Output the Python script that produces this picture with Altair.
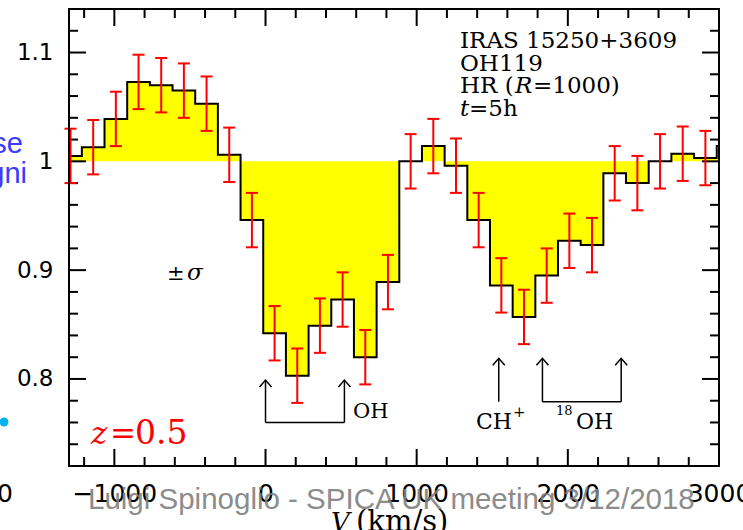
import altair as alt
import pandas as pd

# ---------------- data ----------------
velocity = [-1290, -1140, -990, -840, -690, -540, -390, -240, -90, 60, 210, 360, 510, 660, 810,
            960, 1110, 1260, 1410, 1560, 1710, 1860, 2010, 2160, 2310, 2460, 2610, 2760, 2910, 3060]
flux = [1.005, 1.013, 1.039, 1.073, 1.070, 1.065, 1.053, 1.006, 0.946, 0.842, 0.803, 0.849, 0.873,
        0.820, 0.889, 1.000, 1.014, 0.996, 0.946, 0.886, 0.857, 0.895, 0.927, 0.923, 0.989, 0.980,
        1.000, 1.007, 1.003, 1.014]
SIGMA = 0.025

x_major = [-1000, 0, 1000, 2000, 3000]
x_minor = [-1200, -800, -600, -400, -200, 200, 400, 600, 800, 1200, 1400, 1600, 1800,
           2200, 2400, 2600, 2800]
y_major = [0.8, 0.9, 1.0, 1.1]
y_minor = [0.74, 0.76, 0.78, 0.82, 0.84, 0.86, 0.88, 0.92, 0.94, 0.96, 0.98,
           1.02, 1.04, 1.06, 1.08, 1.12]

# line identifications (velocity, arrow tip, arrow base)
line_v = [0, 522, 1543, 1832, 2353]
line_tip = [0.799, 0.799, 0.819, 0.819, 0.819]
line_base = [0.760, 0.760, 0.779, 0.779, 0.779]
bracket_v1 = [0, 1832]
bracket_v2 = [522, 2353]
bracket_y = [0.760, 0.779]

info_lines = ["IRAS 15250+3609", "OH119"]
watermark = "Luigi Spinoglio - SPICA UK meeting 3/12/2018"

# ---------------- layout ----------------
W, H = 650, 457
XS = alt.Scale(domain=[-1300, 3000], nice=False, zero=False)
YS = alt.Scale(domain=[0.72, 1.14], nice=False, zero=False)
SERIF = "DejaVu Serif"
SANS = "DejaVu Sans"

X_AXIS = alt.Axis(values=x_major, format="d", labelFont=SANS, labelFontSize=25,
                  labelColor="black", ticks=False, tickSize=0, domain=False, grid=False,
                  title=None, labelPadding=15, labelFlush=False, labelOverlap=False)
Y_AXIS = alt.Axis(values=y_major, format="~g", labelFont=SANS, labelFontSize=23,
                  labelColor="black", ticks=False, tickSize=0, domain=False, grid=False,
                  title=None, labelPadding=16, labelOverlap=False)


def X(field):
    return alt.X(field, scale=XS, axis=X_AXIS)


def Y(field):
    return alt.Y(field, scale=YS, axis=Y_AXIS)


half = (velocity[1] - velocity[0]) / 2
step_df = pd.DataFrame({
    "v": [v - half for v in velocity] + [velocity[-1] + half],
    "f": flux + [flux[-1]],
})
err_df = pd.DataFrame({
    "v": velocity,
    "lo": [f - SIGMA for f in flux],
    "hi": [f + SIGMA for f in flux],
})

area = alt.Chart(step_df).mark_area(interpolate="step-after", color="#FFFF00", clip=True).encode(
    x=X("v:Q"), y=Y("f:Q"), y2=alt.datum(1.0))
step = alt.Chart(step_df).mark_line(interpolate="step-after", color="black", strokeWidth=2,
                                     clip=True).encode(x=X("v:Q"), y=Y("f:Q"))

errbase = alt.Chart(err_df).transform_filter(alt.datum.v <= 3000)
err_bar = errbase.mark_rule(color="#FF0000", strokeWidth=2).encode(
    x=X("v:Q"), y=Y("lo:Q"), y2="hi:Q")
cap_lo = errbase.mark_rule(color="#FF0000", strokeWidth=2, xOffset=-6, x2Offset=6).encode(
    x=X("v:Q"), x2="v:Q", y=Y("lo:Q"))
cap_hi = errbase.mark_rule(color="#FF0000", strokeWidth=2, xOffset=-6, x2Offset=6).encode(
    x=X("v:Q"), x2="v:Q", y=Y("hi:Q"))


def xticks(vals, length, top):
    y = alt.value(0) if top else alt.value(H)
    y2 = alt.value(length) if top else alt.value(H - length)
    return alt.Chart(pd.DataFrame({"t": vals})).mark_rule(color="black", strokeWidth=2).encode(
        x=X("t:Q"), y=y, y2=y2)


def yticks(vals, length, right):
    x = alt.value(W) if right else alt.value(0)
    x2 = alt.value(W - length) if right else alt.value(length)
    return alt.Chart(pd.DataFrame({"t": vals})).mark_rule(color="black", strokeWidth=2).encode(
        y=Y("t:Q"), x=x, x2=x2)


ticks = [xticks(x_major, 17, False), xticks(x_major, 17, True),
         xticks(x_minor, 9, False), xticks(x_minor, 9, True),
         yticks(y_major, 17, False), yticks(y_major, 17, True),
         yticks(y_minor, 9, False), yticks(y_minor, 9, True)]

one = pd.DataFrame({"a": [0]})
frame = [
    alt.Chart(one).mark_rule(color="black", strokeWidth=2).encode(
        x=alt.value(0), y=alt.value(-1), y2=alt.value(H + 1)),
    alt.Chart(one).mark_rule(color="black", strokeWidth=2).encode(
        x=alt.value(W), y=alt.value(-1), y2=alt.value(H + 1)),
    alt.Chart(one).mark_rule(color="black", strokeWidth=2).encode(
        y=alt.value(0), x=alt.value(-1), x2=alt.value(W + 1)),
    alt.Chart(one).mark_rule(color="black", strokeWidth=2).encode(
        y=alt.value(H), x=alt.value(-1), x2=alt.value(W + 1)),
]

arrows_df = pd.DataFrame({"v": line_v, "tip": line_tip, "base": line_base})
shafts = alt.Chart(arrows_df).mark_rule(color="black", strokeWidth=1.5).encode(
    x=X("v:Q"), y=Y("tip:Q"), y2="base:Q")
heads = alt.Chart(arrows_df).mark_point(shape="M -1 1.15 L 0 0 L 1 1.15", filled=False, size=144,
                                        color="black", strokeWidth=1.5, opacity=1).encode(
    x=X("v:Q"), y=Y("tip:Q"))
brackets = alt.Chart(pd.DataFrame({"v1": bracket_v1, "v2": bracket_v2, "y": bracket_y})).mark_rule(
    color="black", strokeWidth=1.5).encode(x=X("v1:Q"), x2="v2:Q", y=Y("y:Q"))


def txt(s, x, y, size, font=SERIF, style="normal", color="black", align="left",
        baseline="alphabetic", opacity=1.0):
    return alt.Chart(one).mark_text(text=s, font=font, fontSize=size, fontStyle=style,
                                    color=color, align=align, baseline=baseline,
                                    opacity=opacity).encode(
        x=alt.value(x), y=alt.value(y))


texts = [
    txt(info_lines[0], 391, 39, 23),
    txt(info_lines[1], 391, 61.5, 23),
    txt("HR (", 391, 84, 23),
    txt("R", 446, 84, 23, style="italic"),
    txt("=1000)", 464, 84, 23),
    txt("t", 391, 106.5, 23, style="italic"),
    txt("=5h", 400, 106.5, 23),
    txt("\u00b1", 98, 271, 21),
    txt("\u03c3", 118, 271, 23, style="italic"),
    txt("z", 22, 435, 31, style="italic", color="#FF0000"),
    txt("=", 41, 435, 31, color="#FF0000"),
    txt("0.5", 66, 435, 33, color="#FF0000"),
    txt("OH", 284, 409, 21),
    txt("CH", 407, 420, 22),
    txt("+", 444, 408, 15),
    txt("18", 487, 406, 13),
    txt("OH", 507, 420, 22),
    txt("V", 262, 522, 26, style="italic"),
    txt("(km/s)", 287, 522, 29),
    txt("se", -46, 144, 29, font="Liberation Sans", color="#3B3BFF", align="right"),
    txt("gni", -42, 174, 29, font="Liberation Sans", color="#3B3BFF", align="right"),
    txt("0", -56, 493, 25, font=SANS, align="right"),
    txt(watermark, 19, 499.5, 29.5, font="Liberation Sans", color="#808080", opacity=0.9),
]

dot = alt.Chart(one).mark_point(shape="circle", filled=True, size=80, color="#00B0F0",
                                opacity=1).encode(x=alt.value(-65), y=alt.value(413))

chart = alt.layer(
    area, step, *ticks, err_bar, cap_lo, cap_hi, shafts, heads, brackets, *frame, *texts, dot
).properties(
    width=W, height=H,
    padding={"left": 69, "top": 9, "right": 24, "bottom": 64},
    autosize=alt.AutoSizeParams(type="none"),
    background="white",
).configure_view(stroke=None)

chart.save("out.html", embed_options={"renderer": "svg", "actions": False})
